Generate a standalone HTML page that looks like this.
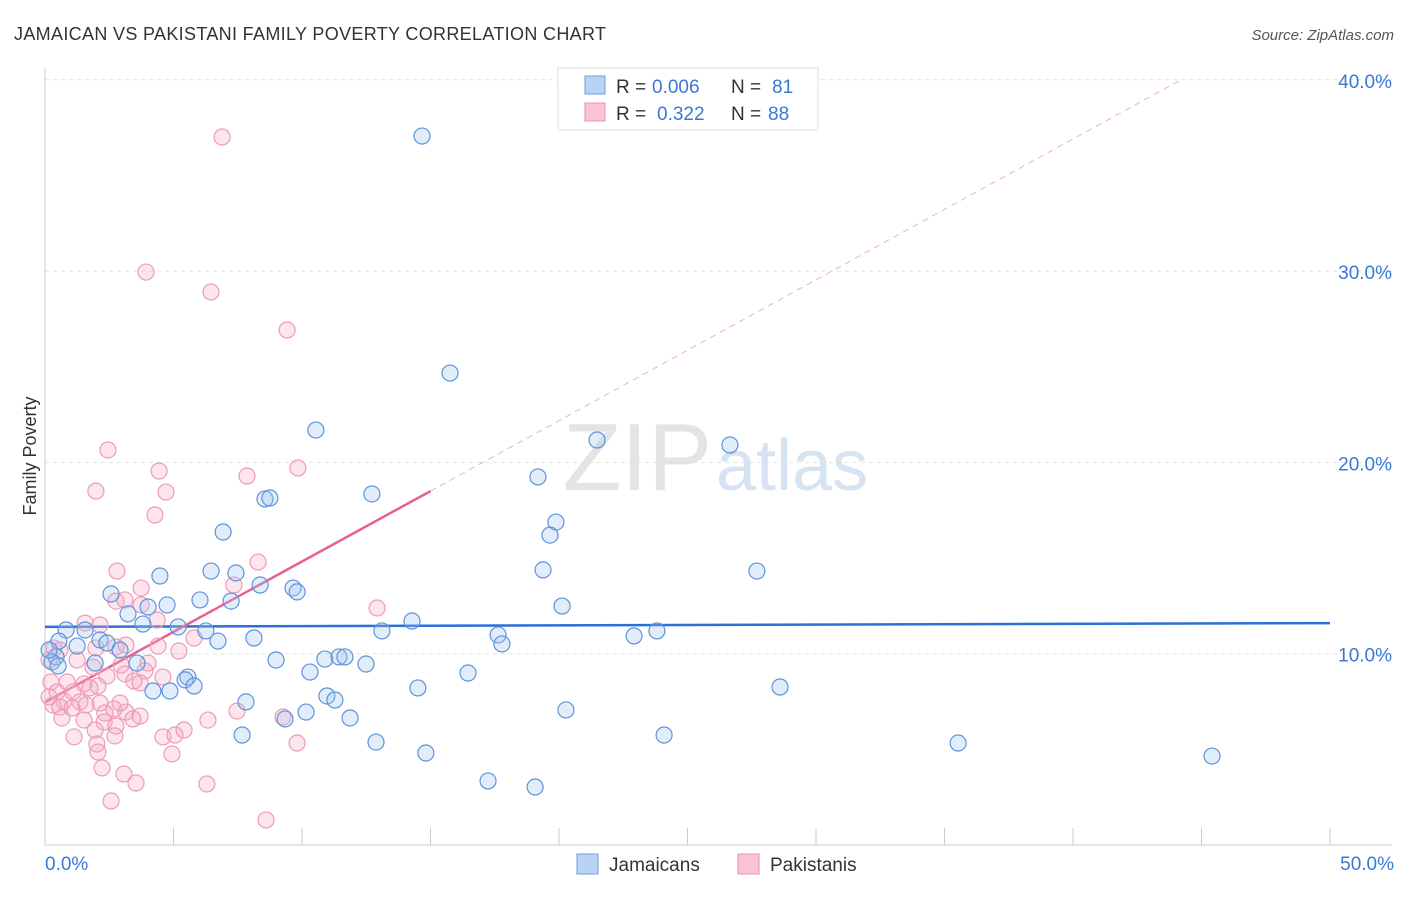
<!DOCTYPE html>
<html><head><meta charset="utf-8"><style>
body{margin:0;background:#fff;font-family:"Liberation Sans",sans-serif;}
svg text{font-family:"Liberation Sans",sans-serif;}
</style></head><body>
<svg id="chart" width="1406" height="892">
<text x="14" y="40" font-size="18" fill="#333" textLength="592">JAMAICAN VS PAKISTANI FAMILY POVERTY CORRELATION CHART</text>
<text x="1394" y="40" font-size="15" fill="#555" text-anchor="end" font-style="italic">Source: ZipAtlas.com</text>
<text x="712" y="490" font-size="96" fill="#e4e4e4" text-anchor="end" font-family="Liberation Serif">ZIP</text>
<text x="716" y="490" font-size="72" fill="#d6e3f3">atlas</text>
<g id="grid"></g><g id="axes"></g><g id="trend"></g><g id="pts"></g>
<text x="36" y="456" font-size="18" fill="#333" transform="rotate(-90 36 456)" text-anchor="middle">Family Poverty</text>
<g>
<rect x="558" y="68" width="260" height="62" fill="#fff" stroke="#ddd"/>
<rect x="585" y="76" width="20" height="18" fill="#b9d3f5" stroke="#6e9fe0"/>
<rect x="585" y="103" width="20" height="18" fill="#f9c5d6" stroke="#ee8fae"/>
<text x="616" y="93" font-size="19" fill="#333">R =</text>
<text x="652" y="93" font-size="19" fill="#3a78d6">0.006</text>
<text x="731" y="93" font-size="19" fill="#333">N =</text>
<text x="772" y="93" font-size="19" fill="#3a78d6">81</text>
<text x="616" y="120" font-size="19" fill="#333">R =</text>
<text x="657" y="120" font-size="19" fill="#3a78d6">0.322</text>
<text x="731" y="120" font-size="19" fill="#333">N =</text>
<text x="768" y="120" font-size="19" fill="#3a78d6">88</text>
</g>
<g>
<rect x="577" y="854" width="21" height="20" fill="#b9d3f5" stroke="#6e9fe0"/>
<text x="609" y="871" font-size="19" fill="#333">Jamaicans</text>
<rect x="738" y="854" width="21" height="20" fill="#f9c5d6" stroke="#ee8fae"/>
<text x="770" y="871" font-size="19" fill="#333">Pakistanis</text>
</g>
</svg>
<script>
const bx=[14.67,15.76,10.54,21.48,26.65,19.18,12.72,8.56,8.75,19.88,19.65,6.93,19.38,27.70,6.46,7.43,4.47,8.37,9.65,9.81,2.57,6.03,7.24,4.75,4.01,20.12,3.23,3.81,14.28,5.18,0.82,1.56,6.26,13.11,17.63,22.92,23.81,0.54,1.25,2.14,2.41,6.73,8.13,17.78,2.92,0.43,0.27,1.95,3.58,8.99,10.89,11.44,11.67,12.49,10.31,16.46,5.56,5.45,5.80,4.20,4.86,14.51,28.60,7.82,10.97,11.28,10.16,9.34,11.87,20.27,7.67,12.88,24.09,14.82,35.53,17.24,19.07,45.41,0.51,0.16];
const by=[37.06,24.67,21.69,21.17,20.91,19.24,18.35,18.09,18.14,16.88,16.20,16.36,14.38,14.32,14.32,14.22,14.06,13.59,13.43,13.23,13.12,12.81,12.75,12.55,12.44,12.49,12.08,11.55,11.71,11.40,11.24,11.24,11.19,11.19,10.98,10.93,11.19,10.66,10.40,10.72,10.56,10.66,10.82,10.51,10.19,9.83,9.57,9.51,9.51,9.67,9.72,9.83,9.83,9.46,9.04,8.99,8.78,8.63,8.31,8.05,8.05,8.21,8.26,7.48,7.79,7.58,6.95,6.59,6.64,7.06,5.75,5.38,5.75,4.81,5.33,3.35,3.03,4.65,9.36,10.19];
const px=[6.89,3.93,6.46,9.42,2.45,4.44,1.98,7.86,9.84,4.71,4.28,8.29,2.80,7.35,3.74,2.76,3.11,3.74,12.92,4.36,1.56,2.14,0.35,0.58,1.98,2.76,3.15,4.40,5.80,5.21,0.16,1.25,1.87,2.96,4.01,3.89,2.41,3.11,4.59,3.46,0.23,0.86,1.52,2.06,3.70,0.47,1.09,1.75,0.16,0.74,1.36,2.14,0.31,0.58,1.05,1.60,2.68,3.15,2.33,3.70,7.47,0.66,1.52,2.30,3.42,6.34,9.26,2.76,1.95,1.13,4.59,5.06,5.41,2.72,2.02,2.06,4.94,9.81,2.22,3.07,3.54,6.30,2.57,8.60,2.92];
const py=[37.01,29.95,28.91,26.92,20.65,19.55,18.50,19.29,19.71,18.45,17.25,14.79,14.32,13.59,13.43,12.75,12.81,12.55,12.39,11.76,11.60,11.50,10.30,10.19,10.30,10.35,10.45,10.40,10.82,10.14,9.67,9.67,9.30,9.41,9.51,9.10,8.83,8.94,8.78,8.57,8.52,8.52,8.42,8.31,8.47,8.00,8.00,8.21,7.74,7.53,7.48,7.42,7.32,7.21,7.16,7.32,7.11,6.95,6.90,6.74,7.00,6.64,6.53,6.43,6.59,6.53,6.69,6.22,6.01,5.65,5.65,5.75,6.01,5.70,5.28,4.86,4.76,5.33,4.03,3.71,3.24,3.19,2.30,1.31,7.42];
const yTicks=[10,20,30,40];
const xTicks=[0,5,10,15,20,25,30,35,40,45,50];
const blueTrend=[[0,11.4],[50,11.6]];
const pinkSolid=[[0,7.46],[15,18.5]];
const pinkDash=[[15,18.5],[44.2,40]];
const NS='http://www.w3.org/2000/svg';
const X=v=>45+v*25.7, Y=v=>845-v*19.13;
function mk(parent,tag,attrs){const e=document.createElementNS(NS,tag);for(const k in attrs)e.setAttribute(k,attrs[k]);document.getElementById(parent).appendChild(e);return e;}
yTicks.forEach(t=>{
 const l=mk('grid','line',{x1:45,x2:1392,y1:Y(t),y2:Y(t),stroke:'#e2e2e2','stroke-dasharray':'4,4'});
 
 
 const tx=mk('grid','text',{x:1392,y:Y(t)+8,'font-size':19,fill:'#3a78d6','text-anchor':'end'});tx.textContent=t.toFixed(1)+'%';
 
 
});
mk('axes','line',{x1:45,x2:45,y1:68,y2:845,stroke:'#ccc'});
mk('axes','line',{x1:45,x2:1392,y1:845,y2:845,stroke:'#ccc'});
xTicks.forEach(t=>{
 const l=mk('axes','line',{x1:X(t),x2:X(t),y1:828,y2:845,stroke:'#ccc'});
 
 
});
const xl0=mk('axes','text',{x:45,y:870,'font-size':19,fill:'#3a78d6'});xl0.textContent=xTicks[0].toFixed(1)+'%';


const xl1=mk('axes','text',{x:1394,y:870,'font-size':19,fill:'#3a78d6','text-anchor':'end'});xl1.textContent=xTicks[xTicks.length-1].toFixed(1)+'%';


function pts(xs,ys,fill,stroke,name){xs.forEach((v,i)=>{
 const c=mk('pts','circle',{cx:X(v),cy:Y(ys[i]),r:8,fill:fill,stroke:stroke,'stroke-width':1.2});
 
 
});}
pts(px,py,'rgba(246,170,195,0.3)','#ef9ab6','pakistani-point');
pts(bx,by,'rgba(160,195,240,0.3)','#5c93dd','jamaican-point');
const tb=mk('trend','line',{x1:X(blueTrend[0][0]),y1:Y(blueTrend[0][1]),x2:X(blueTrend[1][0]),y2:Y(blueTrend[1][1]),stroke:'#2d6fd6','stroke-width':2.5});


const tp=mk('trend','line',{x1:X(pinkSolid[0][0]),y1:Y(pinkSolid[0][1]),x2:X(pinkSolid[1][0]),y2:Y(pinkSolid[1][1]),stroke:'#e8608e','stroke-width':2.5});


const td=mk('trend','line',{x1:X(pinkDash[0][0]),y1:Y(pinkDash[0][1]),x2:X(pinkDash[1][0]),y2:Y(pinkDash[1][1]),stroke:'#eeb0c5','stroke-width':1,'stroke-dasharray':'6,5'});


</script>
</body></html>
